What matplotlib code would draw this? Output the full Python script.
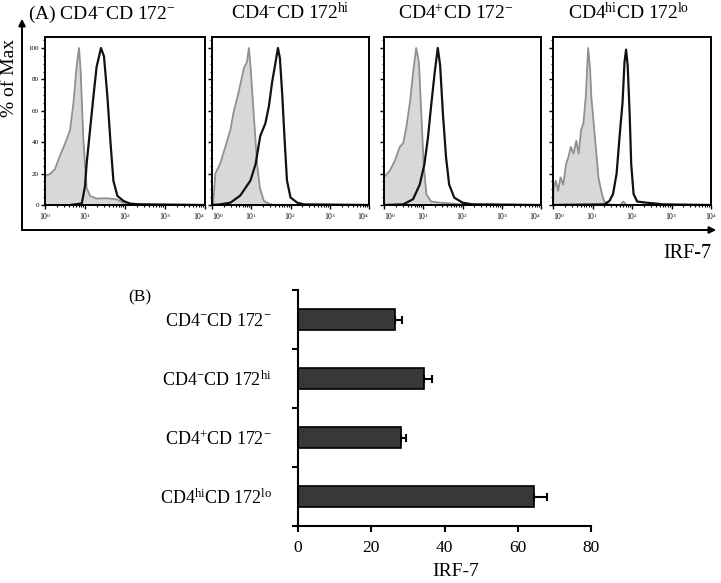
import numpy as np
import matplotlib
matplotlib.use("Agg")
import matplotlib.pyplot as plt
from matplotlib.ticker import FixedLocator, MultipleLocator

plt.rcParams['font.family'] = ['Liberation Serif', 'DejaVu Serif']
plt.rcParams['mathtext.fontset'] = 'custom'
plt.rcParams['mathtext.rm'] = 'Liberation Serif'
plt.rcParams['mathtext.it'] = 'Liberation Serif:italic'

W, H = 721, 583

# ---- data ----
# (A) histograms, x in log decades (10^0 .. 10^4), y in % of max
p1_gray_x = [0, 0.125, 0.25, 0.375, 0.5, 0.625, 0.71, 0.79, 0.85, 0.89, 0.96, 1.04, 1.125, 1.29, 1.54, 1.79, 1.96, 2.125, 4.0]
p1_gray_y = [18.6, 19.7, 22.9, 31.5, 39, 47.5, 64.7, 88.2, 100, 86, 41, 11, 5.8, 4.1, 4.3, 3.6, 1.5, 0.4, 0]
p1_black_x = [0.625, 0.92, 1.0, 1.04, 1.125, 1.21, 1.29, 1.4, 1.475, 1.56, 1.64, 1.71, 1.81, 1.96, 2.125, 2.375, 4.0]
p1_black_y = [0, 1, 12, 26, 47.5, 69, 88, 100, 94.6, 69, 39, 15.4, 5.8, 2.6, 0.9, 0.4, 0]

p2_gray_x = [0, 0.03, 0.085, 0.21, 0.34, 0.47, 0.55, 0.68, 0.81, 0.89, 0.94, 0.98, 1.06, 1.15, 1.22, 1.32, 1.49, 1.66, 4.0]
p2_gray_y = [0, 0.4, 20, 26.4, 37, 48, 59, 72, 87, 91, 100, 89, 59, 26, 11, 2.6, 0.4, 0, 0]
p2_black_x = [0, 0.21, 0.47, 0.72, 0.98, 1.11, 1.23, 1.36, 1.45, 1.53, 1.62, 1.68, 1.73, 1.79, 1.85, 1.91, 2.0, 2.17, 2.34, 4.0]
p2_black_y = [0, 0.4, 1.5, 6, 15.6, 26, 44, 52, 63, 78, 91, 100, 93.5, 70, 41.5, 15.6, 4.8, 1.5, 0.4, 0]

p3_gray_x = [0, 0.15, 0.28, 0.4, 0.49, 0.57, 0.66, 0.74, 0.82, 0.89, 0.95, 1.01, 1.08, 1.2, 1.41, 1.75, 2.0, 4.0]
p3_gray_y = [17.6, 21.9, 28.4, 37, 39.4, 49.7, 65, 84, 100, 90.8, 58.5, 26, 6.9, 2.2, 1.5, 0.9, 0.4, 0]
p3_black_x = [0, 0.49, 0.74, 0.91, 1.03, 1.12, 1.2, 1.29, 1.37, 1.43, 1.5, 1.58, 1.66, 1.79, 2.0, 2.25, 4.0]
p3_black_y = [0, 0.4, 3.7, 13, 26, 43, 63, 84, 100, 89, 58.5, 30.5, 13, 4.7, 1.5, 0.4, 0]

p4_gray_x = [0, 0.02, 0.07, 0.13, 0.19, 0.26, 0.33, 0.39, 0.45, 0.52, 0.59, 0.65, 0.71, 0.77, 0.83, 0.89,
             0.94, 0.97, 1.03, 1.09, 1.15, 1.22, 1.29, 1.39, 1.7, 1.78, 1.87, 4.0]
p4_gray_y = [0, 11, 15.5, 9, 17.6, 13, 26, 30.5, 37, 32.7, 41, 32.7, 47.7, 52, 69, 100,
             86, 69, 52, 35, 17.6, 9, 2.6, 0.4, 0, 2.2, 0, 0]
p4_black_x = [0, 1.3, 1.43, 1.52, 1.61, 1.7, 1.76, 1.81, 1.85, 1.89, 1.94, 1.98, 2.04, 2.13, 2.35, 2.61, 2.78, 4.0]
p4_black_y = [0, 0.4, 2.6, 7, 20, 48, 65, 91, 99, 89, 58.5, 26, 7, 2.2, 1.5, 0.9, 0.4, 0]

panel_titles = [r'CD4$^{-}$CD 172$^{-}$', r'CD4$^{-}$CD 172$^{\mathrm{hi}}$',
                r'CD4$^{+}$CD 172$^{-}$', r'CD4$^{\mathrm{hi}}$CD 172$^{\mathrm{lo}}$']
decade_labels = [r'$10^0$', r'$10^1$', r'$10^2$', r'$10^3$', r'$10^4$']
pct_ticks = [0, 20, 40, 60, 80, 100]

# (B) bar chart
groups = ['CD4$^{-}$CD 172$^{-}$', 'CD4$^{-}$CD 172$^{\\mathrm{hi}}$',
          'CD4$^{+}$CD 172$^{-}$', 'CD4$^{\\mathrm{hi}}$CD 172$^{\\mathrm{lo}}$']
irf7 = [26.6, 34.5, 28.2, 64.4]
irf7_err = [1.9, 2.2, 1.4, 3.5]


def box(l, t, r, b):
    return [l / W, 1 - b / H, (r - l) / W, (b - t) / H]


fig = plt.figure(figsize=(W / 100, H / 100), dpi=100)

hist_data = [(p1_gray_x, p1_gray_y, p1_black_x, p1_black_y),
             (p2_gray_x, p2_gray_y, p2_black_x, p2_black_y),
             (p3_gray_x, p3_gray_y, p3_black_x, p3_black_y),
             (p4_gray_x, p4_gray_y, p4_black_x, p4_black_y)]
panel_px = [(45, 205), (212, 369), (384, 541), (553, 711)]
title_cx = [None, 290, 456, 629]

minor_x = [d + np.log10(k) for d in range(4) for k in range(2, 10)]

for i, ((gx, gy, bx, by), (l, r)) in enumerate(zip(hist_data, panel_px)):
    ax = fig.add_axes(box(l, 37, r, 205))
    ax.fill_between(gx, gy, 0, color='#d8d8d8', lw=0)
    ax.plot(gx, gy, color='#909090', lw=1.3)
    ax.plot(bx, by, color='#111111', lw=1.6)
    ax.set_xlim(0, 4)
    ax.set_ylim(0, 107)
    ax.set_xticks(range(5))
    ax.set_xticklabels(decade_labels, fontsize=5.5)
    # keep the shared-edge labels of neighbouring panels apart
    tl = ax.get_xticklabels()
    if i > 0:
        tl[0].set_horizontalalignment('left')
    if i < 3:
        tl[-1].set_horizontalalignment('right')
    ax.xaxis.set_minor_locator(FixedLocator(minor_x))
    ax.set_yticks(pct_ticks)
    ax.yaxis.set_minor_locator(MultipleLocator(5))
    if i == 0:
        ax.set_yticklabels([str(v) for v in pct_ticks], fontsize=5)
    else:
        ax.set_yticklabels([])
    ax.tick_params(which='major', direction='out', length=3, width=1, pad=1.5)
    ax.tick_params(which='minor', direction='out', length=1.5, width=0.8)
    for s in ax.spines.values():
        s.set_linewidth(1.4)

# titles of panel A
fig.text(28 / W, 1 - 19 / H, '(A) ' + panel_titles[0], fontsize=14, va='baseline', ha='left')
for t, cx in zip(panel_titles[1:], title_cx[1:]):
    fig.text(cx / W, 1 - 19 / H, t, fontsize=14, va='baseline', ha='center')

# arrows for panel A axes
ov = fig.add_axes([0, 0, 1, 1])
ov.set_xlim(0, W)
ov.set_ylim(H, 0)
ov.axis('off')
ov.patch.set_alpha(0)
ov.plot([22, 22], [230, 24], color='black', lw=1.4)
ov.plot([22, 712], [230, 230], color='black', lw=1.4)
ov.annotate('', xy=(22, 16), xytext=(22, 30),
            arrowprops=dict(arrowstyle='-|>', color='black', lw=1.4, mutation_scale=10))
ov.annotate('', xy=(719, 230), xytext=(705, 230),
            arrowprops=dict(arrowstyle='-|>', color='black', lw=1.4, mutation_scale=10))
fig.text(10 / W, 1 - 78 / H, '% of Max', rotation=90, fontsize=14, ha='center', va='center')
fig.text(687 / W, 1 - 253 / H, 'IRF-7', fontsize=14.5, ha='center', va='center')

# ---- panel B ----
axb = fig.add_axes(box(298, 290, 591, 526))
ypos = [3.5, 2.5, 1.5, 0.5]
axb.barh(ypos, irf7, height=0.37, color='#383838', edgecolor='black', lw=1.2,
         xerr=[[0] * 4, irf7_err], error_kw=dict(ecolor='black', elinewidth=1.5, capsize=3, capthick=1.5))
axb.set_xlim(0, 80)
axb.set_ylim(0, 4)
axb.set_xticks([0, 20, 40, 60, 80])
axb.set_yticks([0, 1, 2, 3, 4])
axb.set_yticklabels([])
axb.set_yticks(ypos, groups, minor=True)
axb.tick_params(axis='y', which='minor', length=0, pad=19, labelsize=13)
axb.tick_params(axis='y', which='major', direction='out', length=4, width=1.5)
axb.tick_params(axis='x', direction='out', length=4, width=1.5, labelsize=12.5, pad=6)
axb.spines['top'].set_visible(False)
axb.spines['right'].set_visible(False)
axb.spines['left'].set_linewidth(1.5)
axb.spines['bottom'].set_linewidth(1.5)
fig.text(140 / W, 1 - 297 / H, '(B)', fontsize=12.5, ha='center', va='center')
fig.text(456 / W, 1 - 572 / H, 'IRF-7', fontsize=14, ha='center', va='center')

fig.savefig('out.png', dpi=100)
